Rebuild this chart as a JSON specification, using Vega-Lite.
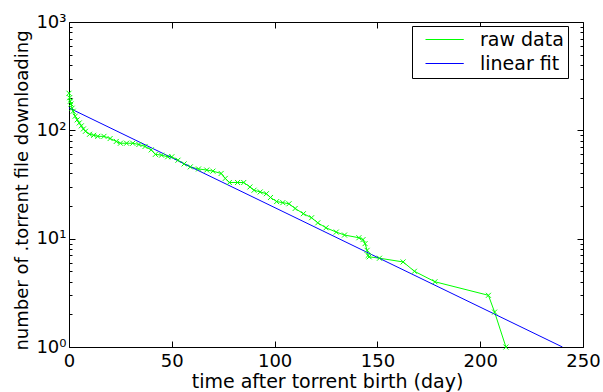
{
  "$schema": "https://vega.github.io/schema/vega-lite/v6.json",
  "autosize": {"type": "none"},
  "padding": {"left": 69, "top": 22, "right": 20, "bottom": 45},
  "width": 514,
  "height": 325,
  "background": "white",
  "config": {
    "view": {"stroke": "black", "strokeWidth": 1},
    "axis": {
      "domain": false,
      "grid": false,
      "tickColor": "black",
      "tickSize": -6,
      "labelColor": "black",
      "labelFont": "DejaVu Sans",
      "labelFontSize": 18,
      "titleFont": "DejaVu Sans",
      "titleFontSize": 18,
      "titleFontWeight": "normal",
      "titleColor": "black"
    },
    "legend": {
      "orient": "none",
      "legendX": 343,
      "legendY": 4,
      "strokeColor": "black",
      "fillColor": "white",
      "padding": 4,
      "labelFont": "DejaVu Sans",
      "labelFontSize": 19,
      "labelColor": "black",
      "symbolType": "M0,0H4.5",
      "symbolSize": 289,
      "symbolStrokeWidth": 1,
      "rowPadding": 4,
      "labelOffset": 45
    }
  },
  "datasets": {
    "main": [
      {"day": 0, "count": 220, "series": "raw data"},
      {"day": 0.3, "count": 200, "series": "raw data"},
      {"day": 0.6, "count": 185, "series": "raw data"},
      {"day": 1, "count": 175, "series": "raw data"},
      {"day": 1.5, "count": 160, "series": "raw data"},
      {"day": 2, "count": 150, "series": "raw data"},
      {"day": 3, "count": 135, "series": "raw data"},
      {"day": 4, "count": 125, "series": "raw data"},
      {"day": 5, "count": 117, "series": "raw data"},
      {"day": 6, "count": 110, "series": "raw data"},
      {"day": 7, "count": 103, "series": "raw data"},
      {"day": 8, "count": 98, "series": "raw data"},
      {"day": 10, "count": 92, "series": "raw data"},
      {"day": 12, "count": 90, "series": "raw data"},
      {"day": 14, "count": 88, "series": "raw data"},
      {"day": 17, "count": 88, "series": "raw data"},
      {"day": 20, "count": 84, "series": "raw data"},
      {"day": 23, "count": 79, "series": "raw data"},
      {"day": 25, "count": 76, "series": "raw data"},
      {"day": 28, "count": 76, "series": "raw data"},
      {"day": 31, "count": 76, "series": "raw data"},
      {"day": 34, "count": 74, "series": "raw data"},
      {"day": 37, "count": 71, "series": "raw data"},
      {"day": 40, "count": 66, "series": "raw data"},
      {"day": 42, "count": 60, "series": "raw data"},
      {"day": 45, "count": 59, "series": "raw data"},
      {"day": 48, "count": 57, "series": "raw data"},
      {"day": 50, "count": 57, "series": "raw data"},
      {"day": 53, "count": 53, "series": "raw data"},
      {"day": 56, "count": 49, "series": "raw data"},
      {"day": 59, "count": 46, "series": "raw data"},
      {"day": 63, "count": 44, "series": "raw data"},
      {"day": 67, "count": 43, "series": "raw data"},
      {"day": 70, "count": 42, "series": "raw data"},
      {"day": 74, "count": 40, "series": "raw data"},
      {"day": 76, "count": 36, "series": "raw data"},
      {"day": 78, "count": 33, "series": "raw data"},
      {"day": 82, "count": 33, "series": "raw data"},
      {"day": 85, "count": 33, "series": "raw data"},
      {"day": 88, "count": 30, "series": "raw data"},
      {"day": 90, "count": 28, "series": "raw data"},
      {"day": 93, "count": 27, "series": "raw data"},
      {"day": 96, "count": 26, "series": "raw data"},
      {"day": 98, "count": 24, "series": "raw data"},
      {"day": 101, "count": 22, "series": "raw data"},
      {"day": 104, "count": 21.5, "series": "raw data"},
      {"day": 107, "count": 21, "series": "raw data"},
      {"day": 110, "count": 19, "series": "raw data"},
      {"day": 114, "count": 17, "series": "raw data"},
      {"day": 118, "count": 15.6, "series": "raw data"},
      {"day": 121, "count": 14, "series": "raw data"},
      {"day": 125, "count": 12.6, "series": "raw data"},
      {"day": 130, "count": 11.5, "series": "raw data"},
      {"day": 134, "count": 10.8, "series": "raw data"},
      {"day": 141, "count": 10.2, "series": "raw data"},
      {"day": 143, "count": 9.8, "series": "raw data"},
      {"day": 144, "count": 9, "series": "raw data"},
      {"day": 145, "count": 7.8, "series": "raw data"},
      {"day": 145.5, "count": 7, "series": "raw data"},
      {"day": 146, "count": 6.8, "series": "raw data"},
      {"day": 151, "count": 6.6, "series": "raw data"},
      {"day": 162.5, "count": 6.1, "series": "raw data"},
      {"day": 168, "count": 5.0, "series": "raw data"},
      {"day": 178, "count": 4.0, "series": "raw data"},
      {"day": 204, "count": 3.0, "series": "raw data"},
      {"day": 207, "count": 2.1, "series": "raw data"},
      {"day": 212.5, "count": 1.0, "series": "raw data"},
      {"day": 0, "count": 161, "series": "linear fit"},
      {"day": 240, "count": 1, "series": "linear fit"}
    ]
  },
  "data": {"name": "main"},
  "encoding": {
    "x": {"field": "day", "type": "quantitative", "scale": {"domain": [0, 250], "nice": false, "zero": false}},
    "y": {"field": "count", "type": "quantitative", "scale": {"type": "log", "domain": [1, 1000], "nice": false}}
  },
  "layer": [
    {
      "mark": {"type": "line", "strokeWidth": 1, "clip": true},
      "encoding": {
        "x": {"field": "day", "type": "quantitative",
          "axis": {"title": "time after torrent birth (day)", "values": [0, 50, 100, 150, 200, 250], "labelPadding": 11,
            "titleFontSize": 19, "titleX": 258, "titleY": 40, "titleBaseline": "alphabetic", "titleAnchor": "middle", "titleAlign": "center", "labelFlush": false}},
        "y": {"field": "count", "type": "quantitative",
          "axis": {"title": "number of .torrent file downloading", "values": [1, 10, 100, 1000], "labelPadding": 9,
            "labelExpr": "datum.value == 1 ? '10⁰' : datum.value == 10 ? '10¹' : datum.value == 100 ? '10²' : '10³'",
            "titleX": -47, "titleY": 168, "titleBaseline": "middle", "labelFlush": false}},
        "color": {"field": "series", "type": "nominal", "title": null,
          "scale": {"domain": ["raw data", "linear fit"], "range": ["#00ff00", "#0000ff"]}},
        "order": {"field": "day", "type": "quantitative"}
      }
    },
    {
      "transform": [{"filter": "datum.series == 'raw data'"}],
      "mark": {"type": "point", "shape": "M-1,-1L1,1M1,-1L-1,1", "filled": false, "size": 25, "strokeWidth": 1, "color": "#00ff00", "opacity": 1},
      "encoding": {
        "x": {"field": "day", "type": "quantitative", "axis": null},
        "y": {"field": "count", "type": "quantitative", "axis": null}
      }
    },
    {
      "mark": {"type": "point", "opacity": 0},
      "encoding": {
        "x": {"field": "day", "type": "quantitative", "axis": {"orient": "top", "labels": false, "title": null, "values": [0, 50, 100, 150, 200, 250]}},
        "y": {"field": "count", "type": "quantitative", "axis": {"orient": "right", "labels": false, "title": null, "values": [1, 10, 100, 1000]}}
      }
    },
    {
      "mark": {"type": "point", "opacity": 0},
      "encoding": {
        "x": {"field": "day", "type": "quantitative", "axis": null},
        "y": {"field": "count", "type": "quantitative", "axis": {"orient": "left", "labels": false, "title": null, "tickSize": -3,
          "values": [2, 3, 4, 5, 6, 7, 8, 9, 20, 30, 40, 50, 60, 70, 80, 90, 200, 300, 400, 500, 600, 700, 800, 900]}}
      }
    },
    {
      "mark": {"type": "point", "opacity": 0},
      "encoding": {
        "x": {"field": "day", "type": "quantitative", "axis": null},
        "y": {"field": "count", "type": "quantitative", "axis": {"orient": "right", "labels": false, "title": null, "tickSize": -3,
          "values": [2, 3, 4, 5, 6, 7, 8, 9, 20, 30, 40, 50, 60, 70, 80, 90, 200, 300, 400, 500, 600, 700, 800, 900]}}
      }
    }
  ],
  "resolve": {"axis": {"x": "independent", "y": "independent"}}
}
